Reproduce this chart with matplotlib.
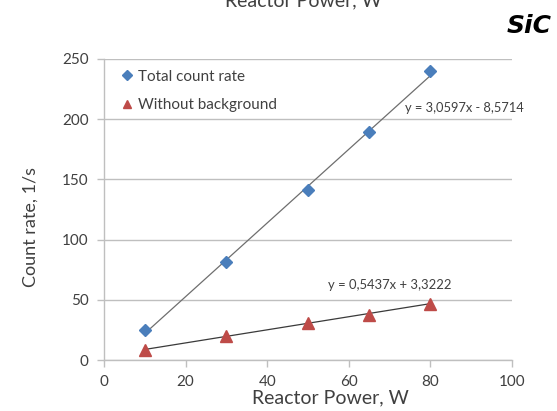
import matplotlib
matplotlib.use("Agg")
import matplotlib.pyplot as plt
import numpy as np

# Measured count rates versus reactor power
power = [10, 30, 50, 65, 80]
total_rate = [25, 81, 141, 189, 240]
net_rate = [8, 20, 31, 37, 46.5]

# Linear trendline coefficients (slope, intercept)
total_fit = (3.0597, -8.5714)
net_fit = (0.5437, 3.3222)

x_ticks = [0, 20, 40, 60, 80, 100]
y_ticks = [0, 50, 100, 150, 200, 250]

plt.rcParams['font.family'] = ['Lato', 'DejaVu Sans']
text_col = '#404040'
grid_col = '#bfbfbf'

fig = plt.figure(figsize=(5.57, 4.11), dpi=100)
ax = fig.add_axes([104/557, 1-360/411, 408/557, 301/411])

xs = np.array([power[0], power[-1]], dtype=float)
ax.plot(xs, total_fit[0]*xs + total_fit[1], color='#6e6e6e', lw=0.9, zorder=2)
ax.plot(xs, net_fit[0]*xs + net_fit[1], color='#3a3a3a', lw=0.9, zorder=2)

ax.plot(power, total_rate, linestyle='none', marker='D', ms=6, color='#4a7ebb',
        label='Total count rate', zorder=3)
ax.plot(power, net_rate, linestyle='none', marker='^', ms=8.5, color='#be4b48',
        label='Without background', zorder=3)

ax.text(73.8, 209, 'y = 3,0597x - 8,5714', fontsize=9.3, color=text_col,
        ha='left', va='center')
ax.text(70.1, 62, 'y = 0,5437x + 3,3222', fontsize=9.4, color=text_col,
        ha='center', va='center')

ax.set_xlim(0, 100)
ax.set_ylim(0, 250)
ax.set_xticks(x_ticks)
ax.set_yticks(y_ticks)
ax.yaxis.grid(True, color=grid_col, lw=1)
ax.set_axisbelow(True)
for s in ['top', 'right']:
    ax.spines[s].set_visible(False)
for s in ['left', 'bottom']:
    ax.spines[s].set_color(grid_col)
    ax.spines[s].set_linewidth(1)
ax.tick_params(axis='both', colors=grid_col, labelcolor=text_col,
               labelsize=11, length=5, width=1, direction='out')
ax.tick_params(axis='y', pad=6)
ax.tick_params(axis='x', pad=6)

ax.set_xlabel('Reactor Power, W', fontsize=14, color=text_col)
ax.set_ylabel('Count rate, 1/s', fontsize=13, color=text_col)
ax.xaxis.set_label_coords(0.554, -0.126)
ax.yaxis.set_label_coords(-0.181, 0.442)
ax.xaxis.label.set_va('center')
ax.yaxis.label.set_va('center')

leg = ax.legend(loc='upper left', bbox_to_anchor=(0.0, 1.01), frameon=False,
                fontsize=11, handletextpad=0.1, handlelength=1.2,
                labelspacing=0.95, labelcolor=text_col)
for h in leg.legend_handles:
    h.set_markersize(5.5)

fig.text(0.545, 1-6/411, 'Reactor Power, W', fontsize=14, color=text_col,
         ha='center', va='baseline')
fig.text(0.99, 1-26/411, 'SiC', fontsize=18, fontweight='bold', style='italic',
         family=['DejaVu Sans'], color='black', ha='right', va='center')

fig.savefig('out.png', dpi=100)
